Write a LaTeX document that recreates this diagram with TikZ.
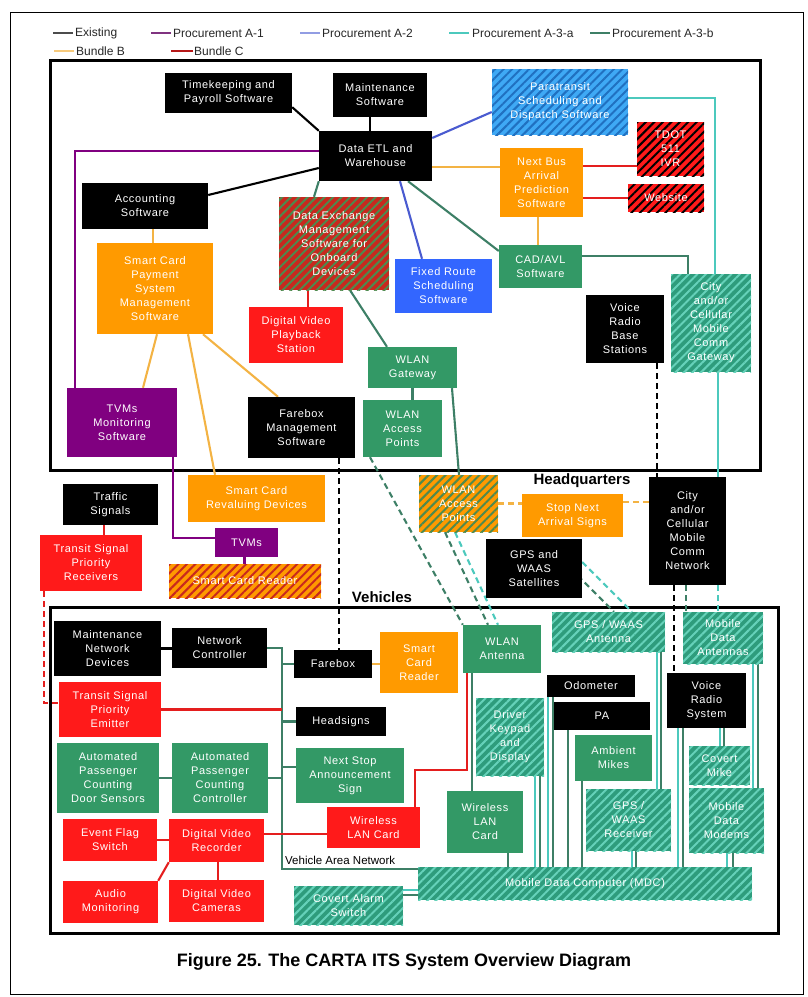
\documentclass[tikz,border=0pt]{standalone}
\usepackage{fontspec}
\setmainfont{Liberation Sans}
\newfontfamily\boxfont[LetterSpace=6]{Liberation Sans}
\usetikzlibrary{patterns.meta}
\pgfdeclarelayer{background}
\pgfsetlayers{background,main}

\definecolor{boxorange}{HTML}{FF9A00}
\definecolor{boxred}{HTML}{FF1A1A}
\definecolor{boxgreen}{HTML}{339966}
\definecolor{boxblue}{HTML}{3366FF}
\definecolor{boxpurple}{HTML}{800080}
\definecolor{tealbase}{HTML}{2E9C7C}
\definecolor{tealline}{HTML}{66D2BA}
\definecolor{parabase}{HTML}{3FA9F5}
\definecolor{paraline}{HTML}{2070C0}
\definecolor{dxbase}{HTML}{C8281E}
\definecolor{dxline}{HTML}{4E8A4E}
\definecolor{lnpurple}{HTML}{800080}
\definecolor{lnblue}{HTML}{4A5BD0}
\definecolor{lnteal}{HTML}{4CC9BD}
\definecolor{lngreen}{HTML}{3D7F66}
\definecolor{lnorange}{HTML}{F3B344}
\definecolor{lnred}{HTML}{E41E1E}

\tikzset{
  sz/.style 2 args={minimum width=#1pt, minimum height=#2pt},
  box/.style={inner sep=1pt, align=center, text=white, font=\boxfont\fontsize{11}{14}\selectfont},
  blackbox/.style={box, fill=black},
  orangebox/.style={box, fill=boxorange},
  redbox/.style={box, fill=boxred},
  greenbox/.style={box, fill=boxgreen},
  bluebox/.style={box, fill=boxblue},
  purplebox/.style={box, fill=boxpurple},
  hatched/.style 2 args={box, fill=#1, postaction={pattern color=#2, pattern={Lines[angle=45,distance=6pt,line width=2pt]}}},
  tealbox/.style={hatched={tealbase}{tealline}},
  parabox/.style={hatched={parabase}{paraline}},
  redblackbox/.style={hatched={boxred}{black}},
  redgreenbox/.style={hatched={dxbase}{dxline}},
  orangegreenbox/.style={hatched={boxorange}{dxline}},
  orangeredbox/.style={hatched={boxorange}{dxbase}},
  conn/.style={line width=2.1pt},
  exist/.style={conn, black},
  aone/.style={conn, lnpurple},
  atwo/.style={conn, lnblue},
  athreea/.style={conn, lnteal},
  athreeb/.style={conn, lngreen},
  bundleb/.style={conn, lnorange},
  bundlec/.style={conn, lnred},
  dashline/.style={dash pattern=on 6pt off 4pt},
  legend/.style={anchor=west, inner sep=0pt, font=\fontsize{12}{14}\selectfont, text=black!85},
  legline/.style={line width=1.4pt},
  framebox/.style={line width=3pt},
}

\begin{document}
\begin{tikzpicture}[x=1pt,y=-1pt]
  \useasboundingbox (0,0) rectangle (807,997);
  \draw[line width=0.8pt] (10,12) rectangle (803,994);

  \node[legend] (lexist) at (75,33) {Existing};
  \node[legend] (laone) at (173,33) {Procurement A-1};
  \node[legend] (latwo) at (322,33) {Procurement A-2};
  \node[legend] (lathreea) at (472,33) {Procurement A-3-a};
  \node[legend] (lathreeb) at (612,33) {Procurement A-3-b};
  \node[legend] (lbundleb) at (76,51) {Bundle B};
  \node[legend] (lbundlec) at (194,51) {Bundle C};
  \draw[legline, black!70] (lexist.west) ++(-2,0) -- ++(-20,0);
  \draw[legline, lnpurple!60!gray] (laone.west) ++(-2,0) -- ++(-20,0);
  \draw[legline, lnblue!60] (latwo.west) ++(-2,0) -- ++(-20,0);
  \draw[legline, lnteal] (lathreea.west) ++(-3,0) -- ++(-20,0);
  \draw[legline, lngreen] (lathreeb.west) ++(-2,0) -- ++(-20,0);
  \draw[legline, lnorange!70] (lbundleb.west) ++(-2,0) -- ++(-20,0);
  \draw[legline, lnred!80!black] (lbundlec.west) ++(-1,0) -- ++(-22,0);

  \node[blackbox, sz={127}{40}] (tps) at (228.5,93) {Timekeeping and\\Payroll Software};
  \node[blackbox, sz={94}{44}] (mts) at (380,95) {Maintenance\\Software};
  \node[blackbox, sz={113}{50}] (etl) at (375.5,156) {Data ETL and\\Warehouse};
  \node[parabox, sz={136}{66}] (para) at (560,102) {Paratransit\\Scheduling and\\Dispatch Software};
  \node[redblackbox, sz={67}{54}] (tdot) at (670.5,149) {TDOT\\511\\IVR};
  \node[redblackbox, sz={76}{28}] (web) at (666,198) {Website};
  \node[orangebox, sz={83}{69}] (nba) at (541.5,182.5) {Next Bus\\Arrival\\Prediction\\Software};
  \node[blackbox, sz={126}{46}] (acct) at (145,206) {Accounting\\Software};
  \node[redgreenbox, sz={110}{93}] (dxm) at (334,243.5) {Data Exchange\\Management\\Software for\\Onboard\\Devices};
  \node[bluebox, sz={97}{54}] (frs) at (443.5,286) {Fixed Route\\Scheduling\\Software};
  \node[greenbox, sz={83}{43}] (cad) at (540.5,266.5) {CAD/AVL\\Software};
  \node[orangebox, sz={116}{91}] (scp) at (155,288.5) {Smart Card\\Payment\\System\\Management\\Software};
  \node[redbox, sz={94}{56}] (dvp) at (296,335) {Digital Video\\Playback\\Station};
  \node[tealbox, sz={80}{98}] (cgw) at (711,323) {City\\and/or\\Cellular\\Mobile\\Comm\\Gateway};
  \node[blackbox, sz={78}{68}] (vrb) at (625,329) {Voice\\Radio\\Base\\Stations};
  \node[greenbox, sz={89}{41}] (wgw) at (412.5,367.5) {WLAN\\Gateway};
  \node[greenbox, sz={79}{57}] (wap) at (402.5,428.5) {WLAN\\Access\\Points};
  \node[purplebox, sz={110}{69}] (tvmm) at (122,422.5) {TVMs\\Monitoring\\Software};
  \node[blackbox, sz={107}{61}] (fbm) at (301.5,427.5) {Farebox\\Management\\Software};

  \node[orangebox, sz={137}{47}] (scrd) at (256.5,498.5) {Smart Card\\Revaluing Devices};
  \node[blackbox, sz={95}{41}] (tsig) at (110.5,504.5) {Traffic\\Signals};
  \node[redbox, sz={102}{56}] (tspr) at (91,563) {Transit Signal\\Priority\\Receivers};
  \node[purplebox, sz={63}{29}] (tvm) at (246.5,542.5) {TVMs};
  \node[orangeredbox, sz={152}{34}] (scro) at (245,581) {Smart Card Reader};
  \node[orangegreenbox, sz={79}{57}] (wapo) at (458.5,503.5) {WLAN\\Access\\Points};
  \node[orangebox, sz={101}{43}] (snas) at (572.5,515.5) {Stop Next\\Arrival Signs};
  \node[blackbox, sz={77}{108}] (ccn) at (687.5,531) {City\\and/or\\Cellular\\Mobile\\Comm\\Network};
  \node[blackbox, sz={96}{59}] (gps) at (534,568.5) {GPS and\\WAAS\\Satellites};

  \node[blackbox, sz={107}{55}] (mnd) at (107.5,648.5) {Maintenance\\Network\\Devices};
  \node[blackbox, sz={95}{40}] (nc) at (219.5,648) {Network\\Controller};
  \node[blackbox, sz={78}{28}] (fbx) at (333,664) {Farebox};
  \node[orangebox, sz={78}{61}] (scr) at (419,662.5) {Smart\\Card\\Reader};
  \node[greenbox, sz={78}{48}] (wla) at (502,649) {WLAN\\Antenna};
  \node[tealbox, sz={113}{40}] (gpa) at (608.5,632) {GPS / WAAS\\Antenna};
  \node[tealbox, sz={80}{52}] (mda) at (723,638) {Mobile\\Data\\Antennas};
  \node[redbox, sz={102}{55}] (tspe) at (110,709.5) {Transit Signal\\Priority\\Emitter};
  \node[blackbox, sz={90}{29}] (hds) at (341,721.5) {Headsigns};
  \node[blackbox, sz={88}{22}] (odo) at (591,686) {Odometer};
  \node[blackbox, sz={96}{28}] (pa) at (602,716) {PA};
  \node[blackbox, sz={79}{55}] (vrs) at (706.5,700.5) {Voice\\Radio\\System};
  \node[tealbox, sz={68}{78}] (dkd) at (510,737) {Driver\\Keypad\\and\\Display};
  \node[greenbox, sz={77}{46}] (amk) at (613.5,758) {Ambient\\Mikes};
  \node[tealbox, sz={61}{39}] (cvm) at (719.5,765.5) {Covert\\Mike};
  \node[greenbox, sz={102}{70}] (apcd) at (108,778) {Automated\\Passenger\\Counting\\Door Sensors};
  \node[greenbox, sz={96}{70}] (apcc) at (220,778) {Automated\\Passenger\\Counting\\Controller};
  \node[greenbox, sz={108}{55}] (nsa) at (350,775.5) {Next Stop\\Announcement\\Sign};
  \node[redbox, sz={93}{41}] (wlcr) at (373.5,827.5) {Wireless\\LAN Card};
  \node[greenbox, sz={76}{62}] (wlcg) at (485,822) {Wireless\\LAN\\Card};
  \node[tealbox, sz={85}{62}] (gpr) at (628.5,820) {GPS /\\WAAS\\Receiver};
  \node[tealbox, sz={75}{65}] (mdm) at (726.5,820.5) {Mobile\\Data\\Modems};
  \node[redbox, sz={94}{42}] (efs) at (110,840) {Event Flag\\Switch};
  \node[redbox, sz={95}{43}] (dvr) at (216.5,840.5) {Digital Video\\Recorder};
  \node[redbox, sz={95}{42}] (aud) at (110.5,902) {Audio\\Monitoring};
  \node[redbox, sz={95}{42}] (dvc) at (216.5,901) {Digital Video\\Cameras};
  \node[tealbox, sz={109}{39}] (cas) at (348.5,905.5) {Covert Alarm\\Switch};
  \node[tealbox, sz={334}{33}] (mdc) at (585,883.5) {Mobile Data Computer (MDC)};

  \node[anchor=west, inner sep=0pt, font=\fontsize{11.5}{13}\selectfont] (vanlabel) at (285,860) {Vehicle Area Network};
  \node[font=\bfseries\fontsize{15}{17}\selectfont] (hqlabel) at (582,481) {Headquarters};
  \node[font=\bfseries\fontsize{15}{17}\selectfont] (vehlabel) at (382,597) {Vehicles};
  \node[font=\bfseries\fontsize{18}{20}\selectfont] (caption) at (404,962) {Figure 25. The CARTA ITS System Overview Diagram};

  \coordinate (vanb) at (282,869);
  \coordinate (rbend) at (467,770);

  \begin{pgfonlayer}{background}
    \draw[framebox] (50,60) rectangle (760,470);
    \draw[framebox] (50,607) rectangle (778,933);
    \begin{scope}[exist]
      \draw ([yshift=6pt]tps.south east) -- (etl.north west);
      \draw ([xshift=-10pt]mts.south) -- ([xshift=-10pt]mts.south |- etl.north);
      \draw ([yshift=11pt]acct.east) -- ([yshift=-12pt]etl.west);
      \draw (mnd.east) -- (mnd.east -| nc.west);
      \draw[dashline] ([xshift=37.5pt]fbm.south) -- ([xshift=6pt]fbx.north);
      \draw[dashline] ([xshift=32pt]vrb.south) -- ([xshift=32pt]vrb.south |- ccn.north);
      \draw[dashline] ([xshift=-13.5pt]ccn.south) -- ([xshift=-13.5pt]ccn.south |- vrs.north);
    \end{scope}
    \begin{scope}[aone]
      \draw ([yshift=5pt]etl.west) -| ([xshift=-47pt]tvmm.north);
      \draw ([xshift=51pt]tvmm.south) |- ([yshift=4.5pt]tvm.west);
      \draw ([xshift=-2pt]tvm.south) -- ([xshift=-2pt]tvm.south |- scro.north);
    \end{scope}
    \begin{scope}[atwo]
      \draw ([yshift=18pt]etl.east) -- ([yshift=-10pt]para.west);
      \draw ([xshift=24.5pt]etl.south) -- ([xshift=-21.5pt]frs.north);
    \end{scope}
    \begin{scope}[athreea]
      \draw ([yshift=4pt]para.east) -| ([xshift=4pt]cgw.north);
      \draw ([xshift=7pt]cgw.south) -- ([xshift=7pt]cgw.south |- ccn.north);
      \draw[dashline] ([xshift=30.5pt]ccn.south) -- ([xshift=30.5pt]ccn.south |- mda.north);
      \draw[dashline] ([yshift=6.5pt]gps.east) -- ([xshift=23.5pt]gpa.north);
      \draw[dashline] ([xshift=-3.5pt]wapo.south) -- ([xshift=-4pt]wla.north);
      \draw ([yshift=15.5pt]cas.east) -- ([yshift=15.5pt]cas.east -| mdc.west);
      \draw ([xshift=25pt]dkd.south) -- ([xshift=25pt]dkd.south |- mdc.north);
      \draw ([xshift=-43pt]odo.south) -- ([xshift=-43pt]odo.south |- mdc.north);
      \draw ([xshift=48.5pt]gpa.south) -- ([xshift=48.5pt]gpa.south |- gpr.north);
      \draw ([xshift=3.5pt]gpr.south) -- ([xshift=3.5pt]gpr.south |- mdc.north);
      \draw ([xshift=-28.5pt]vrs.south) -- ([xshift=-28.5pt]vrs.south |- mdc.north);
      \draw ([xshift=13.5pt]vrs.south) -- ([xshift=13.5pt]vrs.south |- cvm.north);
      \draw ([xshift=30pt]mda.south) -- ([xshift=30pt]mda.south |- mdm.north);
      \draw ([xshift=0.5pt]mdm.south) -- ([xshift=0.5pt]mdm.south |- mdc.north);
    \end{scope}
    \begin{scope}[athreeb]
      \draw ([xshift=32.5pt]etl.south) -- ([yshift=15.5pt]cad.west);
      \draw (etl.south west) -- ([xshift=-20pt]dxm.north);
      \draw ([yshift=10.5pt]cad.east) -| ([xshift=-23pt]cgw.north);
      \draw ([xshift=16pt]dxm.south) -- ([xshift=-25.5pt]wgw.north);
      \draw (wgw.south) -- (wgw.south |- wap.north);
      \draw ([xshift=39.5pt]wgw.south) -- ([xshift=0.5pt]wapo.north);
      \draw[dashline] ([xshift=-11.5pt]gps.east) -- ([xshift=5.5pt]gpa.north);
      \draw[dashline] ([xshift=-32.5pt]wap.south) -- (wla.north west);
      \draw[dashline] ([xshift=-13.5pt]wapo.south) -- ([xshift=-14pt]wla.north);
      \draw[dashline] ([xshift=-1.5pt]ccn.south) -- ([xshift=-1.5pt]ccn.south |- mda.north);
      \draw (nc.east) -| (vanb) -- (vanb -| mdc.west);
      \draw (fbx.west) -- (fbx.west -| vanb);
      \draw (hds.west) -- (hds.west -| vanb);
      \draw ([yshift=8.5pt]nsa.west) -- ([yshift=8.5pt]nsa.west -| vanb);
      \draw (apcc.east) -- (apcc.east -| vanb);
      \draw (apcd.east) -- (apcd.east -| apcc.west);
      \draw ([yshift=10.5pt]cas.east) -- ([yshift=10.5pt]cas.east -| mdc.west);
      \draw ([xshift=-30pt]wla.south) -- ([xshift=-30pt]wla.south |- wlcg.north);
      \draw ([xshift=23pt]wlcg.south) -- ([xshift=23pt]wlcg.south |- mdc.north);
      \draw ([xshift=30pt]dkd.south) -- ([xshift=30pt]dkd.south |- mdc.north);
      \draw ([xshift=-38pt]odo.south) -- ([xshift=-38pt]odo.south |- mdc.north);
      \draw ([xshift=-34pt]pa.south) -- ([xshift=-34pt]pa.south |- mdc.north);
      \draw ([xshift=-31.5pt]amk.south) -- ([xshift=-31.5pt]amk.south |- mdc.north);
      \draw ([xshift=52.5pt]gpa.south) -- ([xshift=52.5pt]gpa.south |- gpr.north);
      \draw ([xshift=7.5pt]gpr.south) -- ([xshift=7.5pt]gpr.south |- mdc.north);
      \draw ([xshift=-23.5pt]vrs.south) -- ([xshift=-23.5pt]vrs.south |- mdc.north);
      \draw ([xshift=17.5pt]vrs.south) -- ([xshift=17.5pt]vrs.south |- cvm.north);
      \draw ([xshift=35pt]mda.south) -- ([xshift=35pt]mda.south |- mdm.north);
      \draw ([xshift=6.5pt]mdm.south) -- ([xshift=6.5pt]mdm.south |- mdc.north);
    \end{scope}
    \begin{scope}[bundleb]
      \draw ([yshift=-11pt]etl.east) -- ([yshift=-11pt]etl.east -| nba.west);
      \draw ([xshift=-3.5pt]nba.south) -- ([xshift=-3.5pt]nba.south |- cad.north);
      \draw ([xshift=8pt]acct.south) -- ([xshift=8pt]acct.south |- scp.north);
      \draw ([xshift=2pt]scp.south) -- ([xshift=21pt]tvmm.north);
      \draw ([xshift=33pt]scp.south) -- ([xshift=-41.5pt]scrd.north);
      \draw ([xshift=48pt]scp.south) -- ([xshift=-23.5pt]fbm.north);
      \draw[dashline] (wapo.east) -- (wapo.east -| snas.west);
      \draw[dashline] ([yshift=13.5pt]snas.east) -- ([yshift=13.5pt]snas.east -| ccn.west);
      \draw (fbx.east) -- (fbx.east -| scr.west);
    \end{scope}
    \begin{scope}[bundlec]
      \draw ([yshift=16.5pt]nba.east) -- ([yshift=16.5pt]nba.east -| tdot.west);
      \draw ([yshift=-15.5pt]nba.east) -- ([yshift=-15.5pt]nba.east -| web.west);
      \draw ([xshift=-26pt]dxm.south) -- ([xshift=-26pt]dxm.south |- dvp.north);
      \draw ([xshift=-6.5pt]tsig.south) -- ([xshift=-6.5pt]tsig.south |- tspr.north);
      \draw[dashline] ([xshift=-47pt]tspr.south) |- ([yshift=6.5pt]tspe.west);
      \draw (tspe.east) -- (tspe.east -| vanb);
      \draw (efs.east) -- (efs.east -| dvr.west);
      \draw ([yshift=6.5pt]dvr.east) -- ([yshift=6.5pt]dvr.east -| wlcr.west);
      \draw (dvr.south west) -- (aud.north east);
      \draw ([xshift=1.5pt]dvr.south) -- ([xshift=1.5pt]dvr.south |- dvc.north);
      \draw ([xshift=41.5pt]wlcr.north) |- (rbend) -- (rbend |- wla.south);
    \end{scope}
  \end{pgfonlayer}
\end{tikzpicture}
\end{document}
